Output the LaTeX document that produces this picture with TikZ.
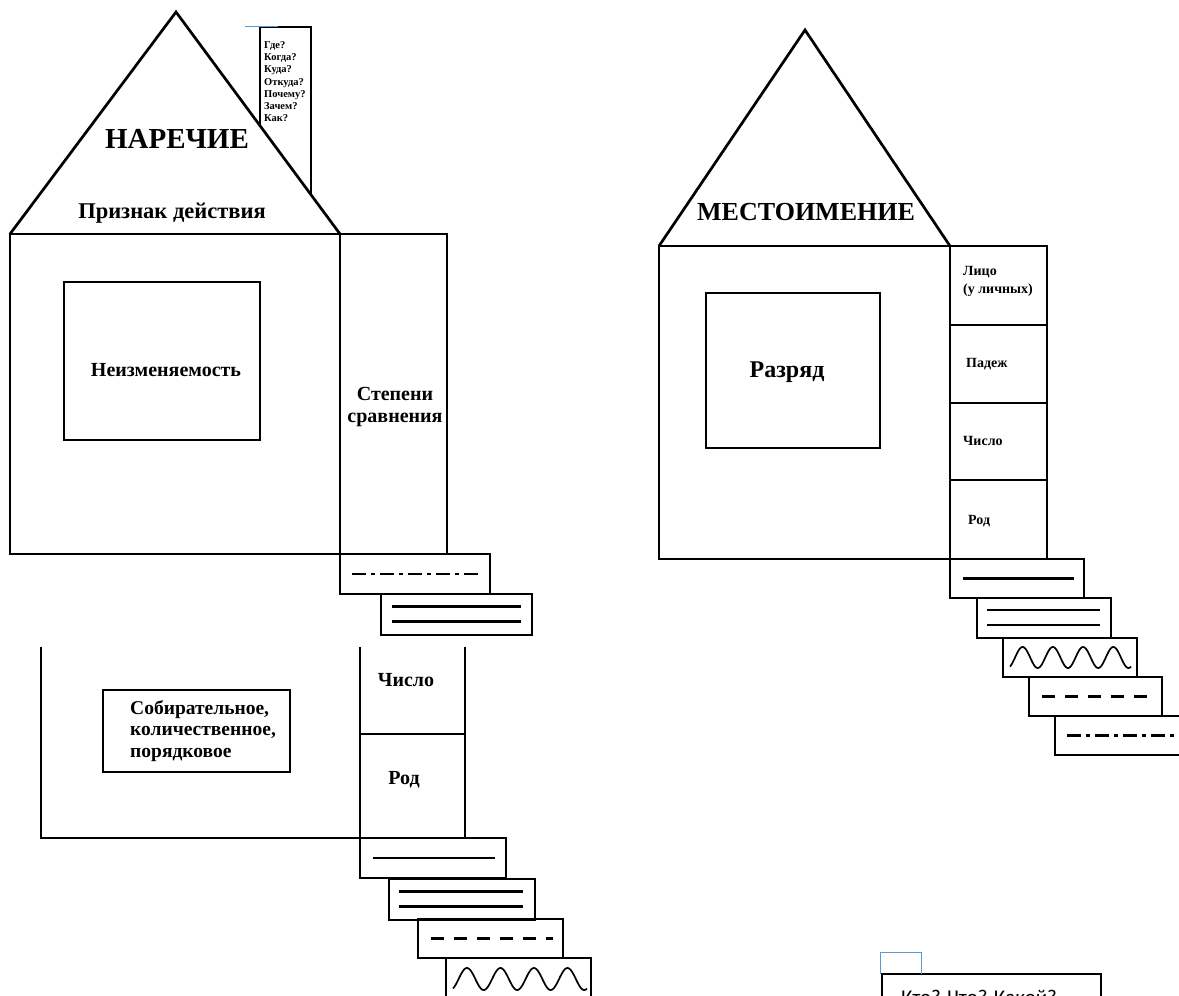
\documentclass[tikz,border=0pt]{standalone}
\usepackage{fontspec}
\setmainfont{Liberation Serif}
\newfontfamily\notefont{Carlito}
\usetikzlibrary{positioning}
\definecolor{selblue}{RGB}{91,155,213}
\tikzset{
	wall/.style = {draw = black, line width = 2.7pt},
	box/.style = {rectangle, draw = black, line width = 2.7pt, anchor = north west, inner sep = 0pt, outer sep = 0pt},
	stepbox/.style = {box, minimum height = 40pt},
	tread/.style = {draw = black, line width = 2.2pt},
	dashdot/.style = {tread, dash pattern = on 14pt off 5pt on 4pt off 5pt},
	dashline/.style = {tread, dash pattern = on 13pt off 10pt},
	title/.style = {font = \bfseries\fontsize{29}{31}\selectfont, inner sep = 0pt},
	label/.style = {font = \bfseries\fontsize{20}{22}\selectfont, inner sep = 0pt, align = center},
	small/.style = {font = \bfseries\fontsize{14}{18}\selectfont, inner sep = 0pt, anchor = west, align = left},
	tiny/.style = {font = \bfseries\fontsize{10.5}{12.3}\selectfont, inner sep = 0pt, anchor = north west, align = left}
}

\begin{document}
\begin{tikzpicture}[x = 1pt, y = -1pt]
	\useasboundingbox (0,0) rectangle (1179,996);
	\clip (0,0) rectangle (1179,996);

	%% adverb house
	% walls
	\node (advbody) [box, minimum width = 330pt, minimum height = 320pt] at (10,234) {};
	\node (degree) [box, minimum width = 107pt, minimum height = 320pt] at (340,234) {};
	\node (fixed) [box, minimum width = 196pt, minimum height = 158pt] at (64,282) {};
	% roof and chimney
	\draw [wall] (advbody.north west) -- (176,12) -- (advbody.north east);
	\coordinate (chimtop) at (260,27);
	\draw [wall] (260,126) -- (chimtop) -- (311,27) -- (311,195);
	\draw [selblue, line width = 1pt] (245,26) -- (278,26);
	% texts
	\node (advtitle) [title] at (177,139) {НАРЕЧИЕ};
	\node (advsign) [label, font = \bfseries\fontsize{22.5}{24}\selectfont] at (172,213) {Признак действия};
	\node (advq) [tiny] at (264,41) {Где?\\Когда?\\Куда?\\Откуда?\\Почему?\\Зачем?\\Как?};
	\node (fixedlbl) [label] at (166,370) {Неизменяемость};
	\node (degreelbl) [label] at (395,407) {Степени\\сравнения};
	% steps
	\node (advs1) [stepbox, minimum width = 150pt] at (340,554) {};
	\node (advs2) [stepbox, minimum width = 151pt, minimum height = 41pt] at (381,594) {};
	\draw [dashdot] ([xshift = 12pt]advs1.west) -- ([xshift = -12pt]advs1.east);
	\draw [tread] ([xshift = 11pt, yshift = 8pt]advs2.west) -- ([xshift = -11pt, yshift = 8pt]advs2.east);
	\draw [tread] ([xshift = 11pt, yshift = -7pt]advs2.west) -- ([xshift = -11pt, yshift = -7pt]advs2.east);

	%% numeral house (lower part)
	\coordinate (numtl) at (41,647);
	\coordinate (colL) at (360,647);
	\coordinate (colR) at (465,647);
	\draw [wall] (numtl) |- (360,838);
	\draw [wall] (colL) -- (360,838);
	\draw [wall] (colR) -- (465,838);
	\draw [wall] (360,734) -- (465,734);
	\node (numkind) [box, minimum width = 187pt, minimum height = 82pt] at (103,690) {};
	\node (numkindlbl) [label, font = \bfseries\fontsize{19.5}{21.5}\selectfont, align = left, anchor = west] at (130,731) {Собирательное,\\количественное,\\порядковое};
	\node (numnum) [label] at (406,680) {Число};
	\node (numgen) [label] at (404,780) {Род};
	% steps
	\node (nums1) [stepbox, minimum width = 146pt] at (360,838) {};
	\node (nums2) [stepbox, minimum width = 146pt, minimum height = 41pt] at (389,879) {};
	\node (nums3) [stepbox, minimum width = 145pt, minimum height = 39pt] at (418,919) {};
	\node (nums4) [stepbox, minimum width = 145pt, minimum height = 42pt] at (446,958) {};
	\draw [tread] ([xshift = 13pt]nums1.west) -- ([xshift = -11pt]nums1.east);
	\draw [tread] ([xshift = 10pt, yshift = 8pt]nums2.west) -- ([xshift = -12pt, yshift = 8pt]nums2.east);
	\draw [tread] ([xshift = 10pt, yshift = -7pt]nums2.west) -- ([xshift = -12pt, yshift = -7pt]nums2.east);
	\draw [dashline] ([xshift = 13pt]nums3.west) -- ([xshift = -10pt]nums3.east);
	\draw [tread, line width = 1.7pt, shift = {(nums4.west)}] plot[domain = 0:134, samples = 160, smooth] (\x+7, {-11*sin(10.746*\x - 60)});

	%% pronoun house
	% walls
	\node (probody) [box, minimum width = 291pt, minimum height = 313pt] at (659,246) {};
	\node (rank) [box, minimum width = 174pt, minimum height = 155pt] at (706,293) {};
	\node (cperson) [box, minimum width = 97pt, minimum height = 79pt] at (950,246) {};
	\node (ccase) [box, minimum width = 97pt, minimum height = 78pt] at (950,325) {};
	\node (cnumber) [box, minimum width = 97pt, minimum height = 77pt] at (950,403) {};
	\node (cgender) [box, minimum width = 97pt, minimum height = 79pt] at (950,480) {};
	% roof
	\draw [wall] (probody.north west) -- (805,30) -- (probody.north east);
	% texts
	\node (protitle) [title, font = \bfseries\fontsize{26}{28}\selectfont] at (806,212) {МЕСТОИМЕНИЕ};
	\node (ranklbl) [label, font = \bfseries\fontsize{24}{26}\selectfont] at (787,372) {Разряд};
	\node (personlbl) [small] at (963,281) {Лицо\\(у личных)};
	\node (caselbl) [small] at (966,364) {Падеж};
	\node (numberlbl) [small] at (963,441) {Число};
	\node (genderlbl) [small] at (968,521) {Род};
	% steps
	\node (pros1) [stepbox, minimum width = 134pt, minimum height = 39pt] at (950,559) {};
	\node (pros2) [stepbox, minimum width = 134pt] at (977,598) {};
	\node (pros3) [stepbox, minimum width = 134pt, minimum height = 39pt] at (1003,638) {};
	\node (pros4) [stepbox, minimum width = 133pt, minimum height = 39pt] at (1029,677) {};
	\node (pros5) [stepbox, minimum width = 140pt, minimum height = 39pt] at (1055,716) {};
	\draw [tread] ([xshift = 13pt]pros1.west) -- ([xshift = -10pt]pros1.east);
	\draw [tread] ([xshift = 10pt, yshift = 8pt]pros2.west) -- ([xshift = -11pt, yshift = 8pt]pros2.east);
	\draw [tread] ([xshift = 10pt, yshift = -7pt]pros2.west) -- ([xshift = -11pt, yshift = -7pt]pros2.east);
	\draw [tread, line width = 1.7pt, shift = {(pros3.west)}] plot[domain = 0:121, samples = 160, smooth] (\x+7, {-10.5*sin(11.901*\x - 60)});
	\draw [dashline] ([xshift = 13pt]pros4.west) -- ([xshift = -9pt]pros4.east);
	\draw [dashdot] ([xshift = 12pt]pros5.west) -- ([xshift = -2pt]pros5.east);

	%% note box at the bottom
	\node (note) [box, line width = 1.8pt, minimum width = 219pt, minimum height = 40pt] at (882,974) {};
	\draw [selblue, line width = 1pt] (880,974) |- (921,952) -- (921,974);
	\node (notetext) [inner sep = 0pt, anchor = base west, font = \notefont\fontsize{21}{24}\selectfont] at (901,1004) {Кто? Что? Какой?};
\end{tikzpicture}
\end{document}
